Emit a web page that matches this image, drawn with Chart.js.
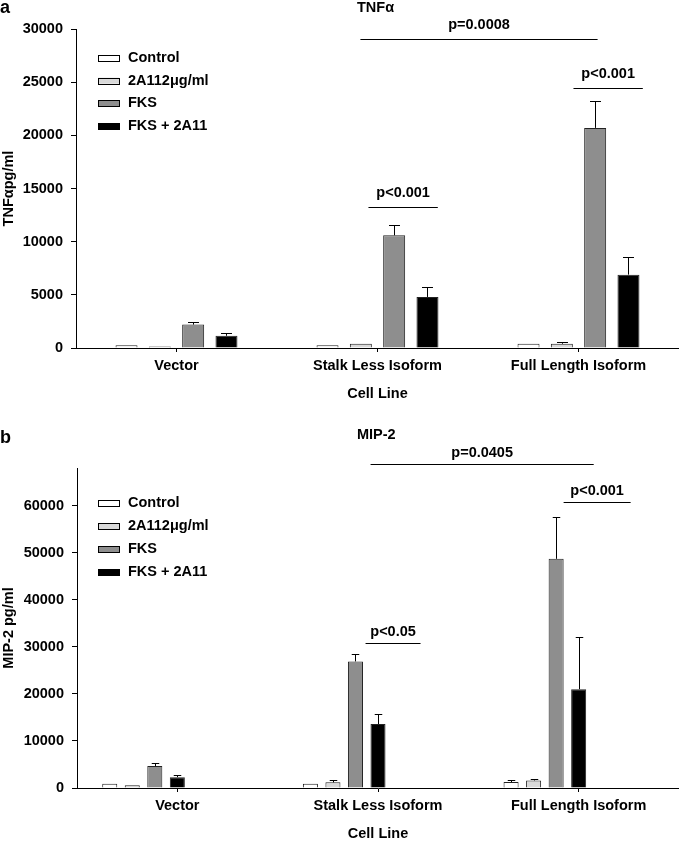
<!DOCTYPE html>
<html>
<head>
<meta charset="utf-8">
<script src="https://cdn.jsdelivr.net/npm/chart.js@4"></script>
<style>
  body { margin: 0; background: #fff; }
  .panel { position: absolute; left: 0; width: 679px; }
</style>
</head>
<body>
<div class="panel" style="top:0;height:415px"><canvas id="tnf-chart"></canvas></div>
<div class="panel" style="top:415px;height:428px"><canvas id="mip-chart"></canvas></div>
<script>
// categories and series
const cellLines = ["Vector", "Stalk Less Isoform", "Full Length Isoform"];
const seriesNames = ["Control", "2A112μg/ml", "FKS", "FKS + 2A11"];
const seriesColors = ["#ffffff", "#d9d9d9", "#8e8e8e", "#000000"];

// panel a: TNFα (pg/ml), means and upper error
const tnfControl = [250, 250, 400];
const tnf2A11 = [130, 400, 400];
const tnfFKS = [2200, 10600, 20700];
const tnfFKS2A11 = [1150, 4800, 6900];
const tnfControlErr = [0, 0, 0];
const tnf2A11Err = [0, 0, 120];
const tnfFKSErr = [200, 950, 2500];
const tnfFKS2A11Err = [300, 900, 1650];
const tnfTicks = [0, 5000, 10000, 15000, 20000, 25000, 30000];

// panel b: MIP-2 (pg/ml)
const mipControl = [900, 900, 1250];
const mip2A11 = [600, 1200, 1600];
const mipFKS = [4650, 26900, 48700];
const mipFKS2A11 = [2300, 13600, 21000];
const mipControlErr = [0, 0, 400];
const mip2A11Err = [0, 400, 250];
const mipFKSErr = [600, 1500, 8900];
const mipFKS2A11Err = [400, 2100, 11000];
const mipTicks = [0, 10000, 20000, 30000, 40000, 50000, 60000];

// significance brackets (x in category index units, y in data units)
const tnfBrackets = [
  { text: "p=0.0008", from: 0.915, to: 2.095, y: 29100 },
  { text: "p<0.001", from: 0.955, to: 1.3, y: 13260 },
  { text: "p<0.001", from: 1.975, to: 2.32, y: 24460 }
];
const mipBrackets = [
  { text: "p=0.0405", from: 0.963, to: 2.075, y: 68900 },
  { text: "p<0.05", from: 0.938, to: 1.212, y: 30850 },
  { text: "p<0.001", from: 1.925, to: 2.259, y: 60850 }
];

const FONT = '"Liberation Sans", Arial, Helvetica, sans-serif';
Chart.defaults.font.family = FONT;
Chart.defaults.font.size = 14.5;
Chart.defaults.font.weight = 'bold';
Chart.defaults.color = '#000';

const errorBarPlugin = {
  id: 'errorBars',
  afterDatasetsDraw(chart) {
    const ctx = chart.ctx, y = chart.scales.y;
    ctx.save();
    ctx.strokeStyle = '#000';
    ctx.lineWidth = 1;
    chart.data.datasets.forEach((ds, i) => {
      if (!ds.errors) return;
      chart.getDatasetMeta(i).data.forEach((bar, j) => {
        const err = ds.errors[j];
        if (!err) return;
        const x = Math.round(bar.x) + 0.5;
        const top = Math.round(y.getPixelForValue(ds.data[j] + err)) + 0.5;
        const half = bar.width / 4;
        ctx.beginPath();
        ctx.moveTo(x, bar.y);
        ctx.lineTo(x, top);
        ctx.moveTo(x - half, top);
        ctx.lineTo(x + half, top);
        ctx.stroke();
      });
    });
    ctx.restore();
  }
};

const extrasPlugin = {
  id: 'extras',
  afterDraw(chart, args, opts) {
    const ctx = chart.ctx, xs = chart.scales.x, ys = chart.scales.y;
    ctx.save();
    ctx.fillStyle = '#000';
    ctx.strokeStyle = '#000';
    ctx.lineWidth = 1;
    // panel letter and title
    ctx.textBaseline = 'alphabetic';
    ctx.textAlign = 'left';
    ctx.font = 'bold 18px ' + FONT;
    ctx.fillText(opts.letter, 0, opts.letterY);
    ctx.font = 'bold 14.5px ' + FONT;
    ctx.fillText(opts.title, opts.titleX, opts.titleY);
    // significance brackets
    ctx.textAlign = 'center';
    ctx.textBaseline = 'middle';
    opts.brackets.forEach(b => {
      const x0 = xs.getPixelForValue(b.from), x1 = xs.getPixelForValue(b.to);
      const yy = Math.round(ys.getPixelForValue(b.y)) + 0.5;
      ctx.beginPath();
      ctx.moveTo(x0, yy);
      ctx.lineTo(x1, yy);
      ctx.stroke();
      ctx.fillText(b.text, (x0 + x1) / 2, yy - opts.textGap);
    });
    // legend
    ctx.textAlign = 'left';
    chart.data.datasets.filter(ds => !ds.placeholder).forEach((ds, i) => {
      const cy = opts.legendY + i * opts.legendGap;
      ctx.fillStyle = ds.backgroundColor;
      ctx.fillRect(98, cy - 3, 21, 6);
      ctx.strokeStyle = '#000';
      ctx.strokeRect(98.5, Math.round(cy - 3) + 0.5, 21, 6);
      ctx.fillStyle = '#000';
      ctx.fillText(ds.label, 128, cy);
    });
    ctx.restore();
  }
};

function makeDatasets(values, errors, catPct, barPct) {
  return values.map((data, i) => ({
    label: seriesNames[i],
    data: data,
    errors: errors[i],
    backgroundColor: seriesColors[i],
    borderColor: '#222',
    borderWidth: 1,
    categoryPercentage: catPct,
    barPercentage: barPct
  }));
}

function makeChart(id, cfg) {
  return new Chart(document.getElementById(id), {
    type: 'bar',
    data: { labels: cellLines, datasets: cfg.datasets },
    plugins: [errorBarPlugin, extrasPlugin],
    options: {
      maintainAspectRatio: false,
      responsive: true,
      animation: false,
      layout: { padding: { top: cfg.top, left: 0, right: 0, bottom: 0 } },
      plugins: {
        legend: { display: false },
        tooltip: { enabled: false },
        extras: cfg.extras
      },
      scales: {
        x: {
          grid: { drawOnChartArea: false, drawTicks: true, tickLength: 4, offset: false, color: '#000' },
          border: { color: '#000' },
          ticks: { padding: 5, maxRotation: 0 },
          title: { display: true, text: 'Cell Line', padding: { top: 0, bottom: cfg.titlePad } },
          afterFit(s) { s.height = cfg.xHeight; }
        },
        y: {
          min: 0,
          max: cfg.max,
          grid: { drawOnChartArea: false, drawTicks: true, tickLength: 5, color: '#000' },
          border: { color: '#000' },
          ticks: { padding: 8, callback: v => String(v) },
          afterBuildTicks(s) { s.ticks = cfg.ticks.map(v => ({ value: v })); },
          title: { display: true, text: cfg.yTitle, padding: 0 },
          afterFit(s) { s.width = cfg.yWidth; }
        }
      }
    }
  });
}

makeChart('tnf-chart', {
  datasets: makeDatasets([tnfControl, tnf2A11, tnfFKS, tnfFKS2A11],
    [tnfControlErr, tnf2A11Err, tnfFKSErr, tnfFKS2A11Err], 0.663, 0.66),
  max: 30000, ticks: tnfTicks, yTitle: 'TNFαpg/ml',
  top: 29, xHeight: 67, yWidth: 76, titlePad: 12,
  extras: { letter: 'a', letterY: 13, title: 'TNFα', titleX: 357, titleY: 12,
    brackets: tnfBrackets, textGap: 15, legendY: 58, legendGap: 22.7 }
});

// panel b leaves three empty slots after the four bars, as in the original
const mipSets = makeDatasets([mipControl, mip2A11, mipFKS, mipFKS2A11],
  [mipControlErr, mip2A11Err, mipFKSErr, mipFKS2A11Err], 0.786, 0.667);
for (let k = 0; k < 3; k++) {
  mipSets.push({ label: '', data: [null, null, null], placeholder: true,
    categoryPercentage: 0.786, barPercentage: 0.667 });
}
makeChart('mip-chart', {
  datasets: mipSets,
  max: 68000, ticks: mipTicks, yTitle: 'MIP-2 pg/ml',
  top: 53, xHeight: 55, yWidth: 77, titlePad: 0,
  extras: { letter: 'b', letterY: 28, title: 'MIP-2', titleX: 357, titleY: 24,
    brackets: mipBrackets, textGap: 12, legendY: 88, legendGap: 23 }
});
</script>
</body>
</html>
